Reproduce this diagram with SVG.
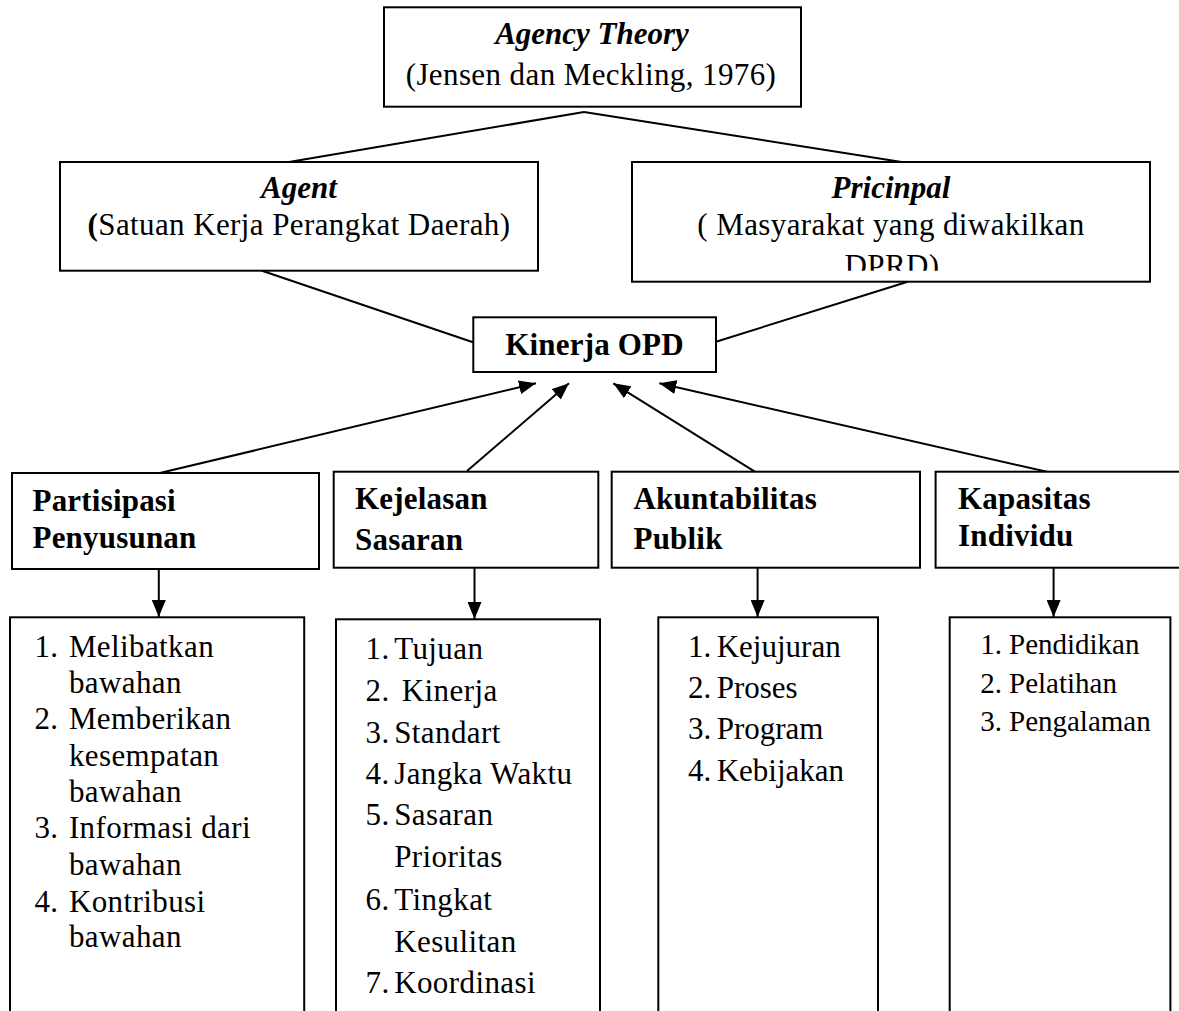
<svg xmlns="http://www.w3.org/2000/svg" width="1179" height="1011" viewBox="0 0 1179 1011">
<style>
rect.box{fill:#fff;stroke:#000;stroke-width:2}
.conn line{stroke:#000;stroke-width:2}
text{font-family:"Liberation Serif","Times New Roman",serif;fill:#000}
.pa{font-size:31px;letter-spacing:0.4px}
.bi{font-size:31px;font-weight:bold;font-style:italic}
.b{font-size:31px;font-weight:bold;letter-spacing:0.2px}
.tm{font-size:31px}
.ts{font-size:29px}
.c{text-anchor:middle}
</style>
<defs>
<marker id="ah" markerUnits="userSpaceOnUse" markerWidth="18" markerHeight="14" refX="17" refY="7" orient="auto">
<path d="M0,0 L17,7 L0,14 z" fill="#000"/>
</marker>
<clipPath id="pclip"><rect x="632" y="162" width="518" height="108.7"/></clipPath>
</defs>
<rect width="1179" height="1011" fill="#fff"/>

<g id="connectors" class="conn">
<line x1="584" y1="112" x2="289" y2="162"/>
<line x1="584" y1="112" x2="908" y2="163"/>
<line x1="262" y1="270.7" x2="473" y2="342.3"/>
<line x1="907.7" y1="281.7" x2="716" y2="341.7"/>
<line x1="158.8" y1="473.3" x2="536" y2="383.3" marker-end="url(#ah)"/>
<line x1="467" y1="471" x2="569" y2="383.3" marker-end="url(#ah)"/>
<line x1="757.6" y1="473.3" x2="613.3" y2="383.3" marker-end="url(#ah)"/>
<line x1="1053.6" y1="473.3" x2="659.3" y2="383.3" marker-end="url(#ah)"/>
<line x1="158.8" y1="569" x2="158.8" y2="617" marker-end="url(#ah)"/>
<line x1="474.5" y1="567.7" x2="474.5" y2="619" marker-end="url(#ah)"/>
<line x1="757.6" y1="567.7" x2="757.6" y2="617" marker-end="url(#ah)"/>
<line x1="1053.6" y1="567.7" x2="1053.6" y2="617" marker-end="url(#ah)"/>
</g>

<g id="agency-theory">
<rect class="box" x="384" y="7.3" width="417" height="99.4"/>
<text class="bi c" x="592" y="44">Agency Theory</text>
<text class="pa c" x="591" y="85">(Jensen dan Meckling, 1976)</text>
</g>

<g id="agent">
<rect class="box" x="60" y="162" width="478" height="108.7"/>
<text class="bi c" x="299" y="198.3">Agent</text>
<text class="pa c" x="299" y="235"><tspan font-weight="bold">(</tspan>Satuan Kerja Perangkat Daerah)</text>
</g>

<g id="principal">
<rect class="box" x="632" y="162" width="518" height="119.7"/>
<text class="bi c" x="891" y="198">Pricinpal</text>
<text class="pa c" x="891" y="235">( Masyarakat yang diwakilkan</text>
<text class="pa c" x="892" y="276" clip-path="url(#pclip)">DPRD)</text>
</g>

<g id="kinerja-opd">
<rect class="box" x="473.3" y="317.3" width="242.7" height="54.7"/>
<text class="b c" x="594.5" y="355">Kinerja OPD</text>
</g>

<g id="partisipasi">
<rect class="box" x="12" y="473" width="307" height="96"/>
<text class="b" x="32.5" y="511.3">Partisipasi</text>
<text class="b" x="32.5" y="548.3">Penyusunan</text>
</g>

<g id="kejelasan">
<rect class="box" x="333.7" y="471.7" width="264.6" height="96"/>
<text class="b" x="355" y="509.3">Kejelasan</text>
<text class="b" x="355" y="550">Sasaran</text>
</g>

<g id="akuntabilitas">
<rect class="box" x="611.7" y="471.7" width="308.3" height="96"/>
<text class="b" x="633.5" y="509.3">Akuntabilitas</text>
<text class="b" x="633.5" y="549.3">Publik</text>
</g>

<g id="kapasitas">
<rect class="box" x="935.6" y="471.7" width="260" height="96"/>
<text class="b" x="958" y="509.3">Kapasitas</text>
<text class="b" x="958" y="546">Individu</text>
</g>

<g id="list-partisipasi">
<rect class="box" x="10" y="617.3" width="294.2" height="410"/>
<g class="pa">
<text x="34.4" y="656.7">1.</text><text x="68.9" y="656.7">Melibatkan</text>
<text x="68.9" y="692.7">bawahan</text>
<text x="34.4" y="729.3">2.</text><text x="68.9" y="729.3">Memberikan</text>
<text x="68.9" y="766">kesempatan</text>
<text x="68.9" y="801.7">bawahan</text>
<text x="34.4" y="838.3">3.</text><text x="68.9" y="838.3">Informasi dari</text>
<text x="68.9" y="875">bawahan</text>
<text x="34.4" y="911.7">4.</text><text x="68.9" y="911.7">Kontribusi</text>
<text x="68.9" y="946.7">bawahan</text>
</g>
</g>

<g id="list-kejelasan">
<rect class="box" x="336" y="619.3" width="264" height="410"/>
<g class="pa">
<text x="365.5" y="659.3">1.</text><text x="394.2" y="659.3">Tujuan</text>
<text x="365.5" y="701">2.</text><text x="401.8" y="701">Kinerja</text>
<text x="365.5" y="742.7">3.</text><text x="394.2" y="742.7">Standart</text>
<text x="365.5" y="784.3">4.</text><text x="394.2" y="784.3">Jangka Waktu</text>
<text x="365.5" y="825">5.</text><text x="394.2" y="825">Sasaran</text>
<text x="394.2" y="866.7">Prioritas</text>
<text x="365.5" y="910">6.</text><text x="394.2" y="910">Tingkat</text>
<text x="394.2" y="951.7">Kesulitan</text>
<text x="365.5" y="993.3">7.</text><text x="394.2" y="993.3">Koordinasi</text>
</g>
</g>

<g id="list-akuntabilitas">
<rect class="box" x="658.3" y="617.3" width="219.7" height="410"/>
<g class="tm">
<text x="688.1" y="656.7">1.</text><text x="716.7" y="656.7">Kejujuran</text>
<text x="688.1" y="698.3">2.</text><text x="716.7" y="698.3">Proses</text>
<text x="688.1" y="739.3">3.</text><text x="716.7" y="739.3">Program</text>
<text x="688.1" y="781">4.</text><text x="716.7" y="781">Kebijakan</text>
</g>
</g>

<g id="list-kapasitas">
<rect class="box" x="949.7" y="617.3" width="220.7" height="410"/>
<g class="ts">
<text x="980.3" y="654.3">1.</text><text x="1009" y="654.3">Pendidikan</text>
<text x="980.3" y="692.7">2.</text><text x="1009" y="692.7">Pelatihan</text>
<text x="980.3" y="731">3.</text><text x="1009" y="731">Pengalaman</text>
</g>
</g>
</svg>
